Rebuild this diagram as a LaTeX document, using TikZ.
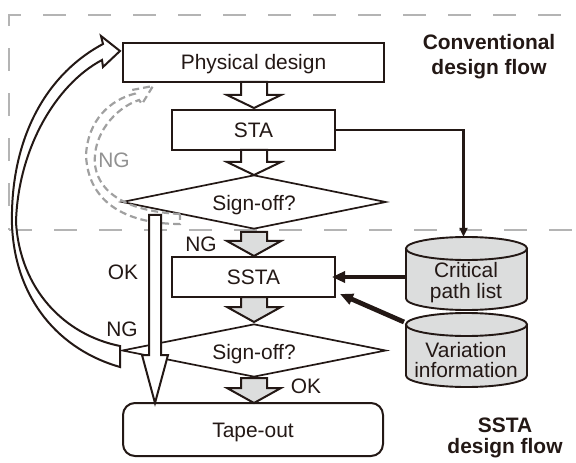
\documentclass[tikz,border=0pt]{standalone}
\usepackage{fontspec}
\setmainfont{Liberation Sans}
\usetikzlibrary{arrows.meta,shapes.geometric}
\definecolor{ink}{RGB}{35,24,21}
\definecolor{boxgray}{RGB}{220,221,221}
\definecolor{dashgray}{RGB}{180,180,180}
\definecolor{nggray}{RGB}{145,145,145}
\definecolor{ngdashgray}{RGB}{160,160,160}
\newcommand\blockarrow[5]{%
  \draw[#1] (#2-13,#3) -- (#2-13,#4) -- (#2-27,#4) -- (#2,#5) -- (#2+27,#4) -- (#2+13,#4) -- (#2+13,#3) -- cycle;}
\newcommand\cylshape[4]{%
  \filldraw[cylstyle] (#1-#4,#2) -- (#1-#4,#3) arc[start angle=180,end angle=360,x radius=#4bp,y radius=11.5bp] -- (#1+#4,#2) -- cycle;
  \filldraw[cylstyle] (#1,#2) ellipse[x radius=#4bp, y radius=11.5bp];}
\tikzset{
  frame/.style={draw=dashgray, line width=2.6bp, dash pattern=on 23bp off 22bp},
  box/.style={draw=ink, line width=2bp, fill=white, inner sep=0pt, text=ink, text height=15bp, text depth=0bp},
  dia/.style={draw=ink, line width=1.7bp, fill=white, shape=diamond, inner sep=0pt, shape aspect=5,
     minimum width=264bp, minimum height=54bp, text=ink, text height=18bp, text depth=0bp},
  lbl/.style={inner sep=0pt, text=ink, text height=15bp, text depth=0bp},
  title/.style={inner sep=0pt, text=ink, align=center},
  harrow/.style={draw=ink, line width=2bp, fill=white},
  garrow/.style={draw=ink, line width=2bp, fill=boxgray},
  cylstyle/.style={draw=ink, line width=1.9bp, fill=boxgray},
  ngdash/.style={draw=ngdashgray, line width=2.2bp, dash pattern=on 7bp off 4bp},
  thinarrow/.style={draw=ink, line width=2.1bp, -{Triangle[length=9bp,width=8bp]}},
  thickarrow/.style={draw=ink, line width=4.8bp, -{Triangle[length=13bp,width=11bp]}},
  cylnode/.style={inner sep=0pt, minimum width=121bp},
}
\begin{document}
\begin{tikzpicture}[x=1bp,y=-1bp, font=\fontsize{21}{21}\selectfont]
\useasboundingbox (0,0) rectangle (576,463);
% dashed frame
\draw[frame, dash phase=21bp] (9,230) -- (9,15) -- (590,15);
\draw[frame] (9,230) -- (590,230);
% main nodes
\node[box, minimum width=261bp, minimum height=39bp] (pd) at (253.5,62.5) {Physical design};
\node[box, minimum width=163bp, minimum height=40bp] (sta) at (253.5,130) {STA};
\node[dia] (d1) at (254,202) {Sign-off?};
\node[box, minimum width=163bp, minimum height=40bp] (ssta) at (253.5,277) {SSTA};
\node[dia, minimum height=53bp] (d2) at (254,350.5) {Sign-off?};
\node[box, rounded corners=12bp, minimum width=260bp, minimum height=53bp] (tape) at (253,429.5) {Tape-out};
% block arrows along the flow
\blockarrow{harrow}{254}{82}{95}{108}
\blockarrow{harrow}{254}{150}{162}{175}
\blockarrow{garrow}{254}{232}{241}{256}
\blockarrow{garrow}{254}{297}{307}{322}
\blockarrow{garrow}{254}{378}{388}{403}
% grey dashed NG loop
\draw[ngdash] (180,214) .. controls (140,212) and (100,200) .. (95,165)
  .. controls (92,135) and (115,108) .. (139,100) -- (142,104) -- (153,86) -- (132,90) -- (134.7,93.7)
  .. controls (110,100) and (88,120) .. (86,155) .. controls (88,205) and (130,224) .. (180,224) -- cycle;
% OK straight hollow arrow
\draw[harrow] (149,215) -- (149,355) -- (142,355) -- (155,403) -- (168,355) -- (161,355) -- (161,215) -- cycle;
% big curved NG arrow
\draw[harrow] (120,367) .. controls (60,350) and (15,300) .. (12,225)
  .. controls (10,140) and (45,75) .. (103,44) -- (101,36) -- (120,51) -- (103,67) -- (102,60)
  .. controls (55,85) and (18,150) .. (16,222) .. controls (20,290) and (65,335) .. (120,346) -- cycle;
% cylinders
\cylshape{466.5}{248.5}{298.5}{60.5}
\cylshape{466.5}{324.5}{375.5}{60.5}
\node[cylnode, minimum height=73bp] (cpl) at (466.5,273.5) {};
\node[cylnode, minimum height=74bp] (var) at (466.5,350) {};
\node[title] (cplt) at (466,283) {Critical\\path list};
\node[title] (vart) at (466,360) {Variation\\information};
% connectors
\draw[thinarrow] (sta.east) -| ([xshift=-3bp]cpl.north);
\draw[thickarrow, shorten >=-4bp] (cpl.west |- ssta.east) -- (ssta.east);
\coordinate (vstart) at (404,322);
\coordinate (vend) at (340,294);
\draw[thickarrow] (vstart) -- (vend);
% labels
\node[lbl, text=nggray] (ngA) at (114,160) {NG};
\node[lbl] (ngB) at (201,244) {NG};
\node[lbl] (okA) at (123,272) {OK};
\node[lbl] (ngC) at (122,329) {NG};
\node[lbl] (okB) at (306,386) {OK};
\node[title, font=\fontsize{21}{25}\selectfont\bfseries] (conv) at (489,57) {Conventional\\design flow};
\node[title, font=\fontsize{21}{21.3}\selectfont\bfseries] (sstaflow) at (505,438) {SSTA\\design flow};
\end{tikzpicture}
\end{document}
